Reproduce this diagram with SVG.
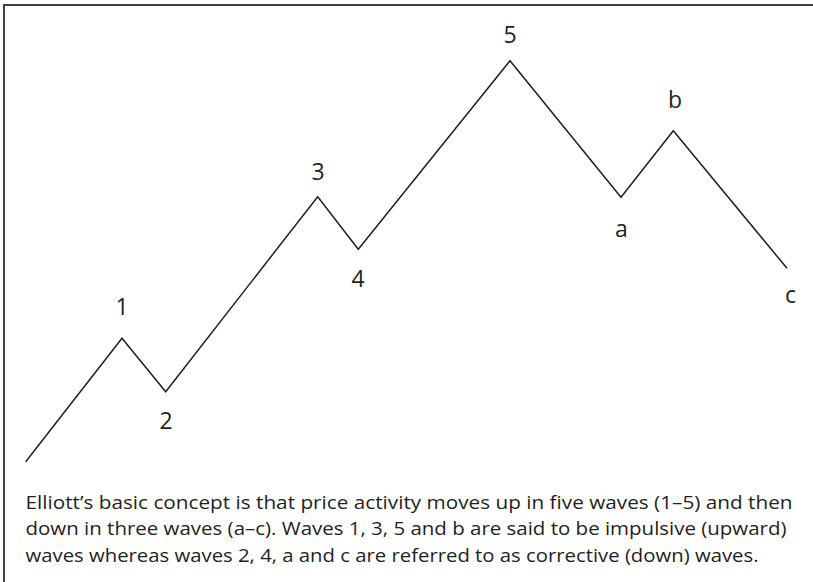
<svg xmlns="http://www.w3.org/2000/svg" width="813" height="582" viewBox="0 0 813 582">
<style>
.lbl{font-family:"Open Sans","Liberation Sans",sans-serif;font-size:23px;fill:#231f20;text-anchor:middle}
.cap{font-family:"Open Sans","Liberation Sans",sans-serif;font-size:19px;fill:#231f20}
.wave{fill:none;stroke:#231f20;stroke-width:1.5;stroke-linejoin:miter}
.frame{fill:none;stroke:#404040;stroke-width:2}
</style>
<rect width="813" height="582" fill="#ffffff"/>
<g id="frame">
<polyline class="frame" points="4,582 4,5 813,5"/>
</g>
<g id="connectors">
<polyline class="wave" points="25.7,461.7 122,338.3 165.7,391.7 317.7,196.7 358.3,249.3 510,60.7 621,197.3 673.3,130.7 787,268.3"/>
</g>
<g id="node-1"><text class="lbl" x="122" y="315">1</text></g>
<g id="node-2"><text class="lbl" x="166" y="429">2</text></g>
<g id="node-3"><text class="lbl" x="318" y="180">3</text></g>
<g id="node-4"><text class="lbl" x="358" y="287">4</text></g>
<g id="node-5"><text class="lbl" x="510" y="42.5">5</text></g>
<g id="node-a"><text class="lbl" x="621.5" y="236.5">a</text></g>
<g id="node-b"><text class="lbl" x="675" y="107.5">b</text></g>
<g id="node-c"><text class="lbl" x="790.5" y="302.5">c</text></g>
<g id="caption">
<text class="cap" x="25.5" y="508.5" textLength="767" lengthAdjust="spacingAndGlyphs">Elliott’s basic concept is that price activity moves up in five waves (1–5) and then</text>
<text class="cap" x="25.5" y="535" textLength="761" lengthAdjust="spacingAndGlyphs">down in three waves (a–c). Waves 1, 3, 5 and b are said to be impulsive (upward)</text>
<text class="cap" x="25.5" y="561.5" textLength="733" lengthAdjust="spacingAndGlyphs">waves whereas waves 2, 4, a and c are referred to as corrective (down) waves.</text>
</g>
</svg>
